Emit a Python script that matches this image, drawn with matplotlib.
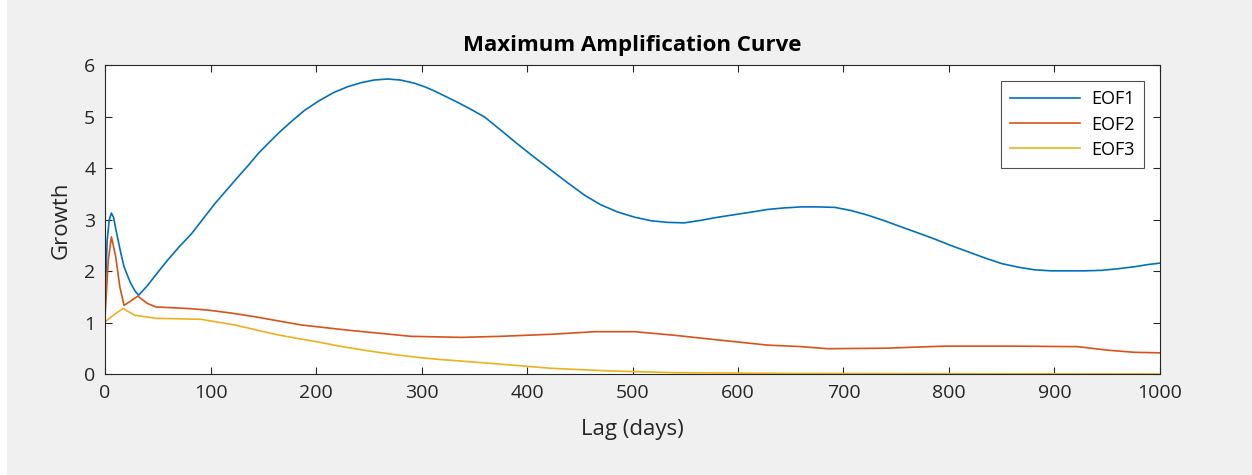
import matplotlib
matplotlib.use("Agg")
from matplotlib import pyplot as plt
from matplotlib.patches import Rectangle
import numpy as np

plt.rcParams['font.family'] = ['Open Sans', 'DejaVu Sans']

# EOF1 growth curve (lag days, growth)
eof1_lag = [0, 2, 4, 6, 8, 11, 15, 18, 24, 29, 32, 40, 50, 59, 70, 82, 93, 104, 115,
            126, 136, 145, 156, 167, 178, 189, 203, 217, 230, 243, 255, 268, 280, 293,
            303, 312, 322, 334, 347, 360, 375, 391, 407, 423, 439, 455, 470, 486, 502,
            518, 533, 549, 565, 581, 597, 613, 628, 644, 660, 676, 692, 707, 723, 739,
            755, 770, 786, 802, 818, 834, 850, 866, 881, 897, 913, 929, 945, 960, 976,
            988, 1000]
eof1_growth = [1.5, 2.6, 3.0, 3.13, 3.05, 2.74, 2.35, 2.09, 1.78, 1.6, 1.54, 1.72, 1.98,
               2.21, 2.47, 2.73, 3.02, 3.31, 3.57, 3.83, 4.06, 4.28, 4.51, 4.73, 4.93,
               5.12, 5.31, 5.47, 5.58, 5.66, 5.71, 5.73, 5.71, 5.65, 5.58, 5.5, 5.4,
               5.28, 5.14, 4.99, 4.74, 4.47, 4.21, 3.96, 3.71, 3.47, 3.29, 3.15, 3.05,
               2.98, 2.95, 2.94, 2.99, 3.05, 3.10, 3.15, 3.2, 3.23, 3.25, 3.25, 3.24,
               3.18, 3.09, 2.98, 2.86, 2.75, 2.63, 2.5, 2.38, 2.26, 2.15, 2.08, 2.03,
               2.01, 2.01, 2.01, 2.02, 2.05, 2.09, 2.13, 2.16]

# EOF2
eof2_lag = [0, 3, 6, 10, 14, 18, 24, 31, 40, 48, 78, 97, 120, 142, 164, 186, 208, 230,
            260, 290, 338, 375, 423, 464, 502, 540, 581, 628, 660, 685, 740, 796, 860,
            922, 951, 976, 1000]
eof2_growth = [1.12, 2.2, 2.67, 2.3, 1.7, 1.34, 1.42, 1.52, 1.38, 1.31, 1.28, 1.25,
               1.19, 1.12, 1.04, 0.96, 0.91, 0.86, 0.8, 0.74, 0.72, 0.74, 0.78, 0.83,
               0.83, 0.76, 0.67, 0.57, 0.54, 0.50, 0.51, 0.55, 0.55, 0.54, 0.47, 0.43,
               0.42]

# EOF3
eof3_lag = [0, 8, 17, 28, 48, 91, 123, 142, 161, 182, 202, 225, 249, 273, 297, 318,
            338, 375, 423, 477, 540, 650, 800, 1000]
eof3_growth = [1.02, 1.15, 1.28, 1.15, 1.09, 1.07, 0.96, 0.87, 0.78, 0.7, 0.63, 0.54,
               0.46, 0.39, 0.33, 0.29, 0.26, 0.20, 0.12, 0.07, 0.035, 0.02, 0.015, 0.01]

fig = plt.figure(figsize=(12.52, 4.75), dpi=100, facecolor='white')
fig.patches.append(Rectangle((7 / 1252, 0), 1, 1, transform=fig.transFigure,
                             facecolor='#f0f0f0', edgecolor='none', zorder=-10))
ax = fig.add_axes([0.0839, 0.2116, 0.8426, 0.6514])

ax.plot(eof1_lag, eof1_growth, color='#0072BD', lw=1.2, label='EOF1')
ax.plot(eof2_lag, eof2_growth, color='#D95319', lw=1.2, label='EOF2')
ax.plot(eof3_lag, eof3_growth, color='#EDB120', lw=1.2, label='EOF3')

ax.set_xlim(0, 1000)
ax.set_ylim(0, 6)
ax.set_xticks(np.arange(0, 1001, 100))
ax.set_yticks(np.arange(0, 7, 1))
ax.tick_params(direction='in', top=True, right=True, length=5, width=0.8,
               labelsize=14, colors='#262626', pad=7)
for s in ax.spines.values():
    s.set_color('#262626')
    s.set_linewidth(0.8)

ax.set_title('Maximum Amplification Curve', fontsize=16, fontweight='bold',
             color='#000000', pad=10)
ax.set_xlabel('Lag (days)', fontsize=16, color='#262626', labelpad=12)
ax.set_ylabel('Growth', fontsize=16, color='#262626', labelpad=9)

leg = ax.legend(loc='upper right', fontsize=13, handlelength=3.9, frameon=True,
                fancybox=False, edgecolor='#262626', borderaxespad=0.9,
                labelspacing=0.4, borderpad=0.5, handletextpad=0.6)
leg.get_frame().set_linewidth(0.8)

plt.savefig('out.png', dpi=100, facecolor=fig.get_facecolor())
